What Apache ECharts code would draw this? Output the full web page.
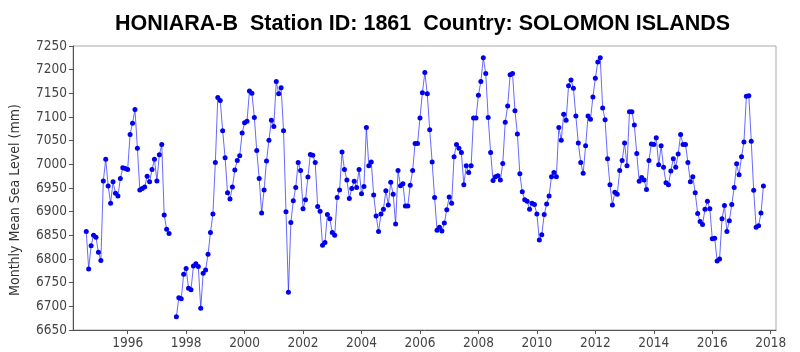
<!DOCTYPE html>
<html>
<head>
<meta charset="utf-8">
<title>HONIARA-B sea level</title>
<script src="https://cdn.jsdelivr.net/npm/echarts/dist/echarts.min.js"></script>
<style>
  html, body { margin: 0; padding: 0; background: #fff; }
  #seaLevelChart { width: 800px; height: 352px; }
</style>
</head>
<body>
<div id="seaLevelChart"></div>
<script>
// monthly mean sea level (mm)
// first run: Aug 1994 .. Jun 1997
var firstStart = [1994, 8];
var firstRun = [
  6858, 6779, 6828, 6850, 6846,
  6814, 6797, 6965, 7011, 6954, 6918, 6963, 6939, 6933, 6970, 6993, 6991,
  6989, 7063, 7087, 7116, 7034, 6946, 6949, 6952, 6975, 6963, 6989, 7011,
  6965, 7020, 7042, 6893, 6863, 6854
];
// second run: Sep 1997 .. Oct 2017 (Jul/Aug 1997 missing)
var secondStart = [1997, 9];
var secondRun = [
  6678, 6718, 6716, 6768,
  6780, 6738, 6735, 6785, 6790, 6784, 6696, 6770, 6777, 6810, 6856, 6895,
  7004, 7141, 7135, 7071, 7014, 6940, 6927, 6952, 6988, 7008, 7018, 7066,
  7088, 7091, 7155, 7150, 7099, 7029, 6970, 6897, 6946, 7007, 7051, 7093,
  7080, 7175, 7149, 7162, 7071, 6900, 6730, 6877, 6923, 6951, 7004, 6987,
  6906, 6925, 6973, 7021, 7019, 7004, 6911, 6901, 6829, 6835, 6894, 6885,
  6856, 6850, 6930, 6946, 7026, 6989, 6967, 6928, 6949, 6964, 6951, 6989,
  6938, 6953, 7078, 6997, 7005, 6935, 6891, 6858, 6895, 6905, 6944, 6914,
  6962, 6937, 6874, 6987, 6955, 6959, 6912, 6912, 6956, 6987, 7044, 7044,
  7098, 7151, 7194, 7149, 7073, 7005, 6930, 6861, 6867, 6859, 6876, 6904,
  6931, 6918, 7016, 7042, 7034, 7025, 6957, 6997, 6983, 6997, 7098, 7098,
  7146, 7175, 7225, 7192, 7099, 7025, 6966, 6974, 6976, 6967, 7002, 7089,
  7123, 7189, 7192, 7113, 7064, 6980, 6942, 6925, 6922, 6905, 6918, 6915,
  6895, 6840, 6851, 6894, 6916, 6933, 6974, 6983, 6974, 7078, 7051, 7106,
  7093, 7166, 7178, 7161, 7102, 7045, 7004, 6981, 7039, 7102, 7095, 7142,
  7182, 7216, 7225, 7119, 7094, 7012, 6957, 6914, 6941, 6937, 6987, 7008,
  7045, 6997, 7111, 7111, 7083, 7023, 6964, 6972, 6967, 6947, 7008, 7043,
  7042, 7056, 6999, 7039, 6994, 6961, 6957, 6986, 7012, 6994, 7022, 7063,
  7042, 7042, 7004, 6963, 6974, 6940, 6896, 6879, 6873, 6905, 6922, 6906,
  6843, 6844, 6796, 6800, 6885, 6913, 6858, 6881, 6915, 6951, 7001, 6978,
  7016, 7047, 7144, 7145, 7049, 6945, 6867, 6870, 6897, 6954
];
var yearTicks = [1996, 1998, 2000, 2002, 2004, 2006, 2008, 2010, 2012, 2014, 2016, 2018];
var levelTicks = [6650, 6700, 6750, 6800, 6850, 6900, 6950, 7000, 7050, 7100, 7150, 7200, 7250];

function toPoints(start, values) {
  var pts = [];
  for (var i = 0; i < values.length; i++) {
    var m = start[1] - 1 + i;
    pts.push([start[0] + m / 12, values[i]]);
  }
  return pts;
}

function initSeaLevelChart() {
  var dom = document.getElementById("seaLevelChart");
  var myChart = echarts.init(dom);
  // null between the two runs breaks the line at the gap
  var data = toPoints(firstStart, firstRun)
    .concat([[1997.5, null]])
    .concat(toPoints(secondStart, secondRun));

  var tickFont = { color: '#444', fontSize: 13.5, fontFamily: '"DejaVu Sans Condensed", "DejaVu Sans", sans-serif' };

  option = {
    backgroundColor: '#fff',
    animation: false,
    title: {
      text: 'HONIARA-B  Station ID: 1861  Country: SOLOMON ISLANDS',
      left: 110,
      top: 8,
      textStyle: {
        fontFamily: '"Liberation Sans", Arial, sans-serif',
        fontWeight: 'bold',
        fontSize: 21.5,
        color: '#000'
      }
    },
    grid: {
      left: 69,
      right: 24,
      top: 46,
      bottom: 22,
      show: true,
      borderColor: '#aaa',
      borderWidth: 1
    },
    xAxis: {
      type: 'value',
      min: 1994.13,
      max: 2018.18,
      splitLine: { show: false },
      axisLine: { lineStyle: { color: '#555' } },
      axisTick: { customValues: yearTicks, length: 4, lineStyle: { color: '#555' } },
      axisLabel: {
        customValues: yearTicks,
        margin: 6,
        color: tickFont.color,
        fontSize: tickFont.fontSize,
        fontFamily: tickFont.fontFamily,
        formatter: function (v) { return String(v); }
      }
    },
    yAxis: {
      type: 'value',
      min: 6650,
      max: 7250,
      interval: 50,
      name: 'Monthly Mean Sea Level (mm)',
      nameLocation: 'middle',
      nameGap: 51,
      nameTextStyle: {
        color: '#333',
        fontSize: 14,
        fontFamily: tickFont.fontFamily,
        padding: [0, 24, 0, 0]
      },
      splitLine: { show: false },
      axisLine: { show: true, lineStyle: { color: '#555' } },
      axisTick: { show: true, customValues: levelTicks, length: 4, lineStyle: { color: '#555' } },
      axisLabel: {
        customValues: levelTicks,
        margin: 6,
        color: tickFont.color,
        fontSize: tickFont.fontSize,
        fontFamily: tickFont.fontFamily,
        formatter: function (v) { return String(v); }
      }
    },
    series: [
      {
        name: 'Monthly Mean Sea Level',
        type: 'line',
        data: data,
        connectNulls: false,
        symbol: 'circle',
        symbolSize: 5,
        showAllSymbol: true,
        lineStyle: { width: 1, color: 'rgba(40,40,255,0.7)' },
        itemStyle: { color: '#0000ee' }
      }
    ]
  };

  if (option && typeof option === "object") {
    myChart.setOption(option, true);
  }
}

initSeaLevelChart();
</script>
</body>
</html>
